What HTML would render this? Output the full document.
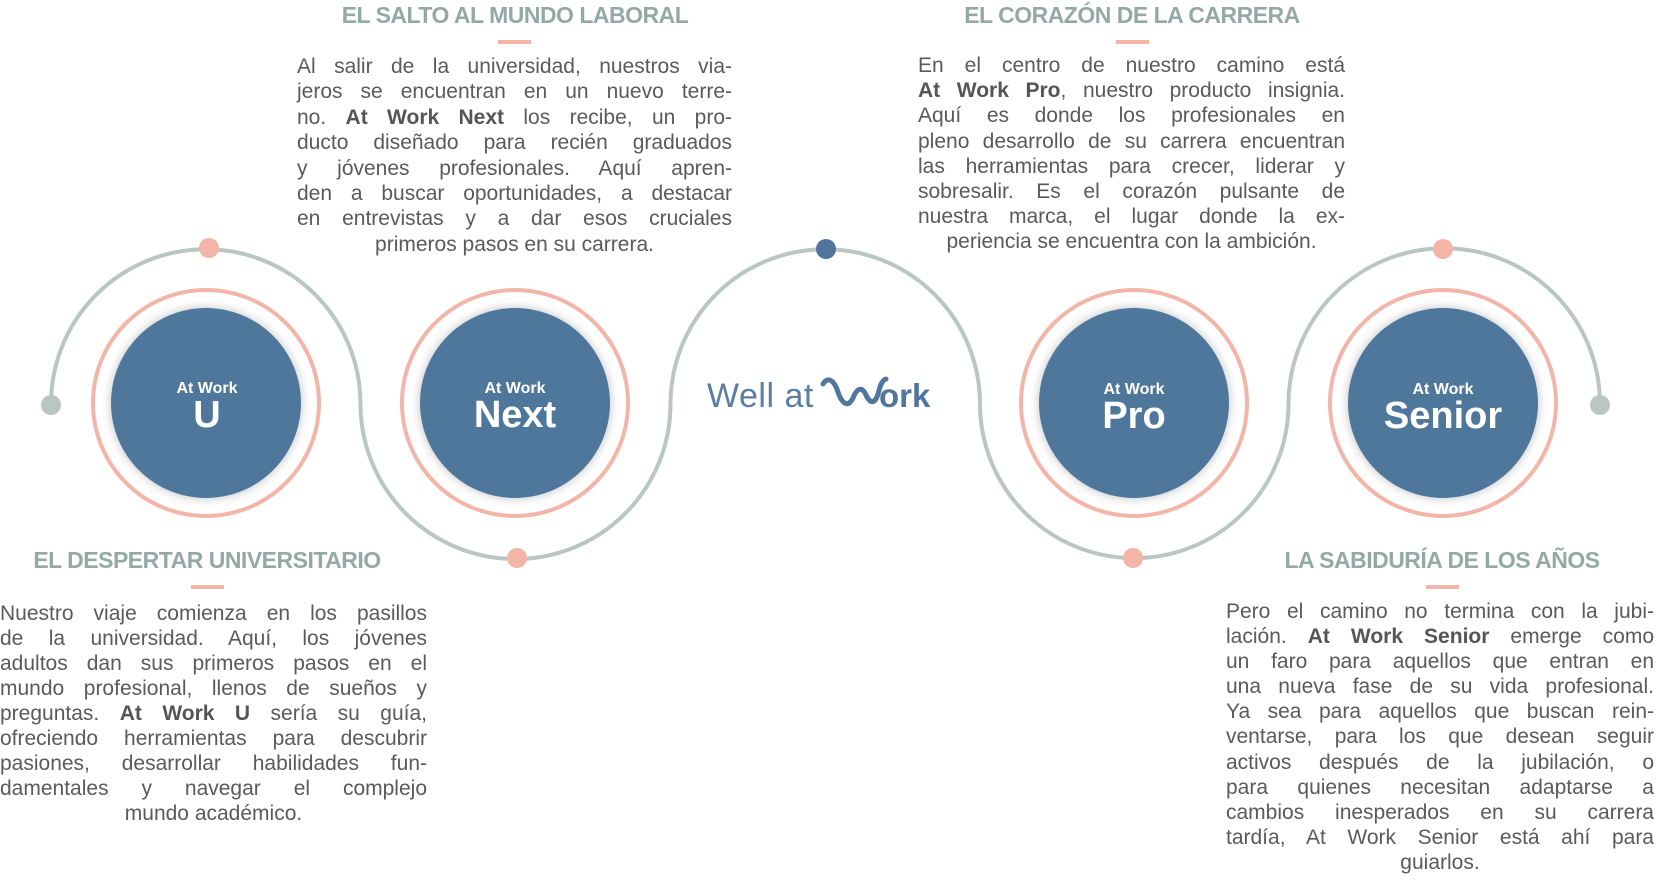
<!DOCTYPE html>
<html><head><meta charset="utf-8"><style>
html,body{margin:0;padding:0;background:#fff;}
body{width:1662px;height:880px;position:relative;overflow:hidden;font-family:"Liberation Sans",sans-serif;}
.t{position:absolute;color:#94a9a6;font-weight:bold;font-size:23px;text-align:center;white-space:nowrap;letter-spacing:-0.5px;}
.bar{position:absolute;width:33px;height:4px;background:#f2b5a7;}
.blk{position:absolute;color:#5a5a5a;font-size:21px;}
.blk div{text-align:justify;text-align-last:justify;white-space:nowrap;}
.blk div.l{text-align:center;text-align-last:center;}
.blk b{color:#555;}
</style></head><body>
<svg width="1662" height="880" style="position:absolute;left:0;top:0">
<defs><filter id="sh" x="-30%" y="-30%" width="160%" height="160%"><feDropShadow dx="0" dy="0" stdDeviation="5" flood-color="#000" flood-opacity="0.25"/></filter></defs>
<path d="M51,404 A154.75,154.75 0 0 1 360.5,404 A155,155 0 0 0 670.5,404 A154.75,154.75 0 0 1 980,404 A154.25,154.25 0 0 0 1288.5,404 A155.75,155.75 0 0 1 1600,404" fill="none" stroke="#b9c6c2" stroke-width="4"/>
<circle cx="51" cy="405" r="10" fill="#b9c6c2"/>
<circle cx="1600" cy="405" r="10" fill="#b9c6c2"/>
<circle cx="209" cy="248" r="10" fill="#f2b5a7"/>
<circle cx="517" cy="558" r="10" fill="#f2b5a7"/>
<circle cx="826" cy="249" r="10" fill="#50779b"/>
<circle cx="1133" cy="558" r="10" fill="#f2b5a7"/>
<circle cx="1443" cy="249" r="10" fill="#f2b5a7"/>
<g fill="none" stroke="#f2b5a7" stroke-width="4">
<circle cx="206" cy="403" r="113"/><circle cx="515" cy="403" r="113"/><circle cx="1134" cy="403" r="113"/><circle cx="1443" cy="403" r="113"/>
</g>
<g fill="#50779b" filter="url(#sh)">
<circle cx="206" cy="403" r="95"/><circle cx="515" cy="403" r="95"/><circle cx="1134" cy="403" r="95"/><circle cx="1443" cy="403" r="95"/>
</g>
<g fill="#fff" font-family="Liberation Sans, sans-serif" font-weight="bold" text-anchor="middle">
<text x="207" y="393" font-size="16">At Work</text><text x="207" y="427" font-size="38">U</text>
<text x="515" y="393" font-size="16">At Work</text><text x="515" y="427" font-size="38">Next</text>
<text x="1134" y="394" font-size="16">At Work</text><text x="1134" y="428" font-size="38">Pro</text>
<text x="1443" y="394" font-size="16">At Work</text><text x="1443" y="428" font-size="38">Senior</text>
</g>
<text x="707" y="407" font-family="Liberation Sans, sans-serif" font-size="34" fill="#5a7ea1" letter-spacing="0.5">Well at</text>
<path d="M823,384 C828,376 834,380 838,392 C842,404 848,408 853,398 C857,388 862,386 866,395 C870,404 875,404 878,394 C880,386 882,380 886,379" fill="none" stroke="#50779b" stroke-width="5" stroke-linecap="round"/>
<text x="879" y="407" font-family="Liberation Sans, sans-serif" font-size="33" font-weight="bold" fill="#50779b">ork</text>
</svg>

<div class="t" style="left:315px;top:2px;width:400px;">EL SALTO AL MUNDO LABORAL</div>
<div class="bar" style="left:498px;top:40px;"></div>
<div class="t" style="left:932px;top:2px;width:400px;">EL CORAZÓN DE LA CARRERA</div>
<div class="bar" style="left:1116px;top:40px;"></div>
<div class="t" style="left:7px;top:547px;width:400px;">EL DESPERTAR UNIVERSITARIO</div>
<div class="bar" style="left:191px;top:585px;"></div>
<div class="t" style="left:1242px;top:547px;width:400px;">LA SABIDURÍA DE LOS AÑOS</div>
<div class="bar" style="left:1426px;top:585px;"></div>

<div class="blk" style="left:297px;top:54px;width:435px;line-height:25.4px;">
<div>Al salir de la universidad, nuestros via-</div>
<div>jeros se encuentran en un nuevo terre-</div>
<div>no. <b>At Work Next</b> los recibe, un pro-</div>
<div>ducto diseñado para recién graduados</div>
<div>y jóvenes profesionales. Aquí apren-</div>
<div>den a buscar oportunidades, a destacar</div>
<div>en entrevistas y a dar esos cruciales</div>
<div class="l">primeros pasos en su carrera.</div>
</div>

<div class="blk" style="left:918px;top:53px;width:427px;line-height:25.2px;">
<div>En el centro de nuestro camino está</div>
<div><b>At Work Pro</b>, nuestro producto insignia.</div>
<div>Aquí es donde los profesionales en</div>
<div>pleno desarrollo de su carrera encuentran</div>
<div>las herramientas para crecer, liderar y</div>
<div>sobresalir. Es el corazón pulsante de</div>
<div>nuestra marca, el lugar donde la ex-</div>
<div class="l">periencia se encuentra con la ambición.</div>
</div>

<div class="blk" style="left:0px;top:601px;width:427px;line-height:25px;">
<div>Nuestro viaje comienza en los pasillos</div>
<div>de la universidad. Aquí, los jóvenes</div>
<div>adultos dan sus primeros pasos en el</div>
<div>mundo profesional, llenos de sueños y</div>
<div>preguntas. <b>At Work U</b> sería su guía,</div>
<div>ofreciendo herramientas para descubrir</div>
<div>pasiones, desarrollar habilidades fun-</div>
<div>damentales y navegar el complejo</div>
<div class="l">mundo académico.</div>
</div>

<div class="blk" style="left:1226px;top:599px;width:428px;line-height:25.1px;">
<div>Pero el camino no termina con la jubi-</div>
<div>lación. <b>At Work Senior</b> emerge como</div>
<div>un faro para aquellos que entran en</div>
<div>una nueva fase de su vida profesional.</div>
<div>Ya sea para aquellos que buscan rein-</div>
<div>ventarse, para los que desean seguir</div>
<div>activos después de la jubilación, o</div>
<div>para quienes necesitan adaptarse a</div>
<div>cambios inesperados en su carrera</div>
<div>tardía, At Work Senior está ahí para</div>
<div class="l">guiarlos.</div>
</div>
</body></html>
